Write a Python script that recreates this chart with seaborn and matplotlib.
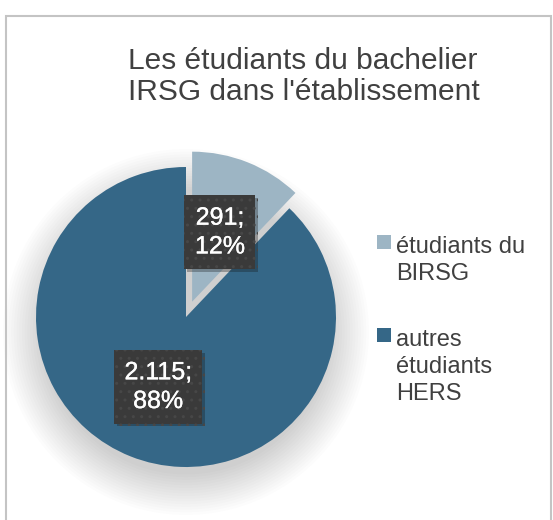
import numpy as np
import matplotlib
matplotlib.use("Agg")
import matplotlib.pyplot as plt
import matplotlib.patheffects as pe
from matplotlib.patches import Rectangle, Circle
import seaborn as sns

# données
categories = ["étudiants du\nBIRSG", "autres\nétudiants\nHERS"]
effectifs = [291, 2115]
couleurs = ["#9db5c4", "#356787"]
explode = [0.11, 0.0]
titre = "Les étudiants du bachelier\nIRSG dans l'établissement"

sns.set_theme(style="white")
plt.rcParams['font.family'] = ['Liberation Sans', 'DejaVu Sans']

W, H = 553, 520
fig = plt.figure(figsize=(W / 100, H / 100), dpi=100)
fig.patch.set_facecolor("white")

# cadre gris clair
fig.add_artist(Rectangle((6 / W, -0.1), (551 - 6) / W, (H - 16) / H + 0.1,
                         transform=fig.transFigure, fill=False,
                         ec="#c4c4c4", lw=1.5))

# axes du camembert : centre (186, 317) px, rayon 150 px
cx, cy, r = 186, 317, 150
lim = 1.2
size = r * lim
ax = fig.add_axes([(cx - size) / W, (H - cy - size) / H, 2 * size / W, 2 * size / H])

# ombre douce
for rr in np.linspace(0.95, 1.22, 16):
    ax.add_patch(Circle((0, -0.1), rr, fc="black", ec="none", alpha=0.012,
                        zorder=0, clip_on=False))


def fmt(pct):
    val = int(round(pct * sum(effectifs) / 100))
    return f"{val:,}".replace(",", ".") + ";\n" + f"{pct:.0f}%"


pal = sns.color_palette(couleurs)
wedges, texts, autotexts = ax.pie(effectifs, colors=pal, explode=explode,
                                  startangle=90, counterclock=False,
                                  autopct=fmt, pctdistance=0.5,
                                  wedgeprops=dict(linewidth=0))
for w in wedges:
    w.set_zorder(2)
    w.set_clip_on(False)
for t in autotexts:
    t.set_color("white")
    t.set_fontsize(18)
    t.set_linespacing(1.25)
    t.set_zorder(5)
    t.set_path_effects([pe.withStroke(linewidth=0.25, foreground="white")])
    t.set_bbox(dict(boxstyle="square,pad=0.42", fc="#3a3a3a", ec="#474747",
                    lw=0, hatch=".."))
    t.get_bbox_patch().set_path_effects(
        [pe.SimplePatchShadow(offset=(2, -2), alpha=0.3), pe.Normal()])
ax.set_xlim(-lim, lim)
ax.set_ylim(-lim, lim)
ax.set_aspect("equal")
ax.axis("off")

# titre (y = ligne de base de la dernière ligne)
fig.text(128 / W, 1 - 100 / H, titre, ha="left", va="baseline",
         fontsize=21.5, color="#404040", linespacing=1.15)

# légende
leg_top = [253, 346]
for lab, col, yb in zip(categories, couleurs, leg_top):
    n = lab.count("\n")
    fig.add_artist(Rectangle((377 / W, 1 - (yb - 4) / H), 14 / W, 14 / H,
                             transform=fig.transFigure, fc=col, ec="none"))
    fig.text(396 / W, 1 - (yb + 27 * n) / H, lab, ha="left", va="baseline",
             fontsize=17, color="#404040", linespacing=1.3)

fig.savefig("out.png", dpi=100)
